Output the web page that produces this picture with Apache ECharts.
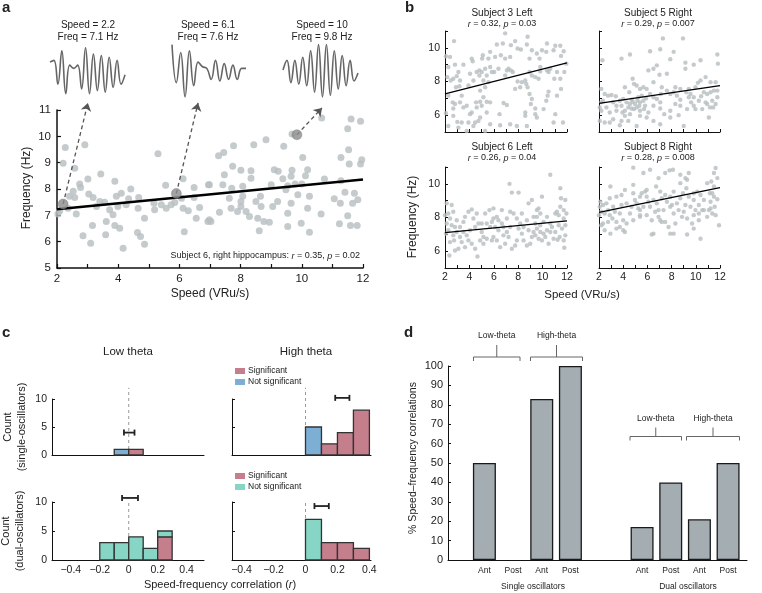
<!DOCTYPE html>
<html><head><meta charset="utf-8">
<script src="https://cdn.jsdelivr.net/npm/echarts@6/dist/echarts.min.js"></script>
<style>html,body{margin:0;padding:0;background:#fff}#c{width:762px;height:593px}</style>
</head><body><div id="c"></div>
<script>
// ---------------- DATA ----------------
// Panel a: subject 6 right hippocampus, speed vs frequency
const aPoints = [
[2.27,9.58],[2.91,9.68],[2.2,8.98],[2.58,8.79],[5.3,9.34],[3.01,8.38],[3.43,8.57],[3.89,8.29],[2.74,8.19],[2.77,8.06],
[2.53,7.91],[2.41,7.72],[2.58,7.68],[2.09,7.17],[2.03,7.05],[2.63,7.05],[2.36,7.27],[3.04,7.81],[3.18,7.68],[3.4,7.53],
[3.56,7.5],[3.29,7.34],[3.72,7.21],[3.94,7.72],[4.1,7.84],[3.99,7.34],[3.83,7.02],[4.26,7.4],[4.34,7.63],[4.41,8.0],
[3.61,6.77],[3.16,6.61],[3.89,6.61],[4.05,6.51],[3.59,6.26],[2.85,6.22],[3.1,5.94],[4.16,5.75],[4.63,6.35],[4.73,6.2],
[4.86,5.9],[4.86,6.89],[4.65,7.27],[4.67,7.68],[5.17,7.46],[5.19,7.21],[5.41,7.4],[5.55,8.14],[5.57,7.27],[5.73,7.4],
[5.85,7.49],[6.12,8.39],[6.07,7.65],[6.12,7.27],[6.16,6.38],[6.48,8.06],[6.48,7.68],[6.29,7.17],[6.66,7.3],[6.55,6.89],
[6.93,6.77],[6.95,8.16],
[10.65,10.7],[11.61,10.66],[11.92,10.57],[11.5,10.29],[9.68,10.09],[8.83,9.87],[8.43,9.68],[7.77,9.64],[7.45,9.39],[7.28,9.26],
[9.41,9.62],[11.53,9.49],[10.03,9.2],[11.28,9.2],[11.55,8.95],[11.92,8.95],[11.96,9.11],[8.34,8.69],[9.1,8.73],[9.23,8.67],
[9.68,8.71],[10.19,8.73],[8.34,8.41],[9.38,8.39],[9.65,8.48],[10.12,8.5],[10.74,8.38],[11.28,8.31],[7.47,8.54],[6.98,8.16],
[7.42,8.16],[7.71,8.03],[8.07,8.1],[9.0,8.16],[9.54,8.12],[9.78,8.19],[10.0,8.19],[9.48,7.97],[9.87,7.78],[10.25,7.72],
[8.07,7.72],[8.65,7.72],[7.63,7.65],[8.01,7.53],[8.5,7.53],[7.69,7.27],[8.01,7.34],[8.18,7.15],[7.9,7.15],[8.67,7.34],
[9.05,7.34],[9.21,7.53],[9.65,7.46],[10.19,7.27],[11.06,7.63],[11.41,7.88],[11.72,7.84],[11.26,7.46],[11.66,7.46],[11.83,7.59],
[9.54,7.08],[10.63,7.05],[11.5,6.98],[7.31,7.12],[7.03,6.77],[6.98,6.83],[8.29,6.96],[8.56,6.89],[8.76,6.77],[8.94,6.74],
[9.54,6.58],[9.98,6.7],[8.61,6.41],[10.25,6.36],[11.23,6.68],[11.59,6.61],[11.81,6.61],[7.74,8.86],[8.01,8.71]
];
const aHighlight = [[2.2,7.43],[5.9,7.83],[9.84,10.06]];
const aFit = [[2,7.23],[12,8.36]];
// annotation arrow tips (speed, freq) for each highlighted sample
const aArrowTips = [[3.01,11.27],[6.61,11.27],[10.66,11.08]];
const aSampleSpeed = ['2.2','6.1','10'];
const aSampleFreq = ['7.1','7.6','9.8'];
// example theta traces (arbitrary amplitude, successive extrema)
const wave1 = [30,35,-40,65,-70,20,10,20,-55,75,-70,55,-60,50,-65,45,-50,35,-40,-10];
const wave2 = [85,-35,60,-80,65,-45,30,15,10,-25,35,-30,25,-25,20,-25,10,10];
const wave3 = [5,35,-35,35,-40,45,-45,65,-65,85,-80,85,-75,65,-55,50,-45,35,-30,-5];

// Panel b: four subjects
const bTitles = ['Subject 3 Left','Subject 5 Right','Subject 6 Left','Subject 8 Right'];
const bR = ['0.32','0.29','0.26','0.28'];
const bP = ['0.03','0.007','0.04','0.008'];
const bFit1 = [[2,7.26],[12,9.1]];
const bFit2 = [[2,6.7],[12,7.76]];
const bFit3 = [[2,7.1],[12,7.8]];
const bFit4 = [[2,8.3],[12,9.78]];
const bPts1 = [
[2.74,10.4],[2.08,9.5],[2.41,9.46],[2.27,8.86],[2.82,9.0],[3.51,9.0],[3.1,8.56],[2.68,8.16],[2.19,8.26],[2.96,8.32],
[3.23,8.06],[2.47,8.06],[2.9,7.66],[3.18,7.72],[2.27,7.16],[3.37,7.16],[3.92,7.76],[4.19,9.36],[4.27,9.2],[4.05,8.46],
[4.33,8.06],[4.6,8.56],[4.82,8.66],[5.01,8.56],[5.1,9.56],[5.04,9.36],[5.56,9.36],[5.7,9.76],[6.11,9.46],[6.25,10.2],
[6.74,10.26],[6.93,10.86],[6.58,9.56],[6.93,9.36],[7.34,9.46],[7.4,10.16],[7.75,10.4],[7.95,9.96],[8.22,9.9],[8.77,10.66],
[8.71,10.2],[9.12,9.86],[8.93,9.36],[9.53,9.66],[9.75,9.36],[9.95,9.86],[10.36,10.26],[10.3,9.76],[10.9,9.86],[11.04,10.12],
[11.45,10.12],[11.51,9.52],[11.73,9.8],[11.95,9.06],[11.78,8.56],[11.45,8.16],[11.51,7.56],[11.18,8.56],[10.96,8.16],[10.49,8.56],
[10.63,8.76],[10.36,8.66],[9.81,8.86],[9.81,8.6],[9.67,8.16],[9.4,8.26],[9.12,8.36],[8.93,8.56],[8.58,8.06],[8.66,7.86],
[8.3,7.96],[8.77,7.66],[8.93,7.26],[9.12,6.96],[9.04,6.66],[9.4,6.4],[9.4,6.06],[9.53,5.86],[10.08,6.36],[10.3,6.86],
[10.41,7.16],[10.49,7.4],[11.18,7.16],[11.04,6.06],[10.9,5.56],[8.58,6.16],[7.95,8.0],[8.16,7.66],[7.75,7.56],[7.56,8.56],
[7.21,8.76],[7.4,8.66],[7.07,8.66],[6.93,8.36],[6.38,8.76],[6.03,8.56],[5.84,8.56],[5.7,8.86],[5.29,8.76],[5.42,8.36],
[4.82,8.36],[5.15,8.06],[5.56,7.96],[5.29,7.66],[4.88,7.46],[5.15,7.06],[4.88,6.8],[4.55,6.76],[4.19,6.16],[4.05,6.06],
[4.6,6.46],[5.01,6.56],[5.42,6.8],[5.7,6.76],[5.42,6.16],[4.88,5.86],[4.74,5.66],[4.47,5.56],[4.33,5.36],[3.92,5.56],
[3.37,5.56],[3.01,5.6],[3.1,5.26],[2.27,5.36],[2.08,6.12],[2.68,5.96],[2.82,6.66],[2.63,6.76],[3.23,6.76],[3.51,6.46],
[3.78,6.56],[7.07,6.6],[7.34,5.46],[7.89,5.36],[8.71,5.36],[6.52,5.4],[5.7,5.46],[6.47,6.06],[6.8,6.72],[8.58,5.96],
[11.67,5.56],[5.29,5.06],[3.78,5.06],[2.68,6.4]
];
const bPts2 = [
[2.28,9.26],[3.86,9.36],[4.56,9.6],[6.22,9.8],[7.28,10.56],[8.94,10.56],[7.06,9.92],[8.17,9.76],[7.89,9.32],[9.14,9.12],
[10.39,9.26],[11.78,9.6],[11.83,9.06],[9.83,9.0],[6.78,8.96],[6.5,8.76],[6.08,8.66],[9.14,8.76],[7.61,8.46],[7.0,8.4],
[4.78,8.16],[4.89,7.86],[4.14,7.66],[4.5,7.36],[5.11,7.76],[5.39,7.56],[5.67,7.66],[5.94,7.56],[6.5,7.96],[7.19,7.66],
[8.31,7.66],[8.72,7.56],[9.56,7.26],[9.97,7.66],[10.17,7.92],[10.39,8.06],[10.81,8.26],[11.22,7.96],[11.64,7.96],[11.5,7.46],
[11.22,7.36],[10.94,7.26],[10.67,7.36],[10.44,7.12],[9.83,7.06],[9.61,6.76],[9.42,7.06],[9.22,7.36],[8.44,7.16],[7.89,7.26],
[7.61,7.46],[7.11,7.26],[6.78,6.96],[6.5,7.06],[6.22,7.26],[5.89,7.0],[5.67,6.86],[5.39,6.76],[5.17,6.86],[4.97,6.66],
[4.78,6.8],[4.56,6.66],[4.42,6.46],[4.69,6.4],[4.89,6.36],[5.11,6.46],[5.33,6.56],[4.28,6.76],[4.0,6.96],[3.72,6.86],
[3.39,7.12],[3.03,7.2],[2.75,7.16],[2.47,7.26],[2.19,7.56],[2.33,6.86],[3.17,6.76],[3.44,6.56],[3.86,6.56],[2.61,6.46],
[2.19,6.26],[2.89,6.16],[3.44,6.26],[3.94,6.16],[4.14,5.96],[5.39,6.26],[5.72,6.36],[6.08,6.16],[6.5,6.56],[7.06,6.4],
[7.39,6.06],[7.89,6.26],[8.31,6.66],[8.72,6.56],[9.28,6.36],[9.83,6.56],[10.25,6.86],[10.81,6.76],[11.36,6.86],[11.78,7.06],
[11.44,6.46],[11.17,6.46],[10.94,6.66],[7.89,5.86],[8.58,6.0],[7.06,5.46],[9.0,5.36],[11.08,5.86],[2.06,5.66],[2.47,5.56],
[3.17,5.76],[4.42,5.66],[5.11,5.36],[2.06,6.46],[2.19,6.76],[3.72,5.4],[6.5,5.66],[5.39,5.96],[5.94,5.86],[4.56,6.06],
[3.86,5.66],[2.89,5.56],[4.14,6.26],[4.69,6.92],[5.25,7.06],[8.72,6.92],[9.42,7.56],[8.17,7.36],[7.06,6.76],[5.81,6.56],
[5.53,7.16],[9.97,6.36],[10.53,6.36],[11.64,6.66],[11.78,7.46]
];
const bPts3 = [
[2.14,8.84],[2.55,8.74],[2.27,8.24],[2.0,8.14],[2.68,8.34],[2.41,7.94],[2.14,7.64],[2.55,7.54],[2.82,7.44],[2.27,7.24],
[2.08,7.04],[2.68,6.94],[2.96,7.14],[2.41,6.54],[2.36,5.74],[2.82,6.04],[3.1,6.14],[3.37,6.54],[3.23,6.84],[3.51,7.14],
[3.78,6.94],[3.64,8.04],[3.92,8.34],[4.19,8.48],[4.33,7.94],[4.47,7.44],[4.05,7.24],[3.92,6.64],[4.19,6.44],[4.47,6.14],
[4.66,5.68],[4.88,6.64],[5.01,7.14],[5.15,6.84],[5.01,7.64],[5.29,8.24],[5.64,8.44],[5.97,8.54],[5.84,7.74],[5.7,7.44],
[6.11,7.44],[5.97,6.84],[6.25,6.64],[6.38,7.24],[6.66,7.64],[6.79,6.94],[6.93,6.44],[6.52,6.24],[5.84,6.64],[5.42,6.74],
[6.66,8.44],[7.07,7.94],[7.34,8.34],[7.29,10.0],[7.48,9.48],[8.03,9.48],[7.62,8.24],[7.89,7.94],[8.3,8.24],[8.16,7.64],
[8.44,7.44],[8.71,7.84],[8.85,8.84],[9.12,9.04],[9.26,8.04],[9.53,8.44],[9.67,8.54],[9.95,9.24],[9.81,8.24],[8.85,7.24],
[9.26,7.14],[9.53,7.34],[9.81,7.14],[10.08,7.04],[9.4,6.94],[9.12,6.84],[9.67,6.74],[9.95,6.64],[10.22,6.84],[10.36,7.24],
[10.63,10.54],[10.63,7.64],[10.49,6.44],[10.77,7.44],[11.04,8.24],[11.18,8.34],[11.32,8.14],[11.45,9.74],[11.51,9.14],[11.45,8.64],
[11.73,8.44],[11.86,9.04],[11.95,8.24],[11.73,7.94],[11.86,7.54],[11.59,7.34],[11.4,6.84],[11.86,6.94],[11.73,6.64],[11.23,6.68],
[11.78,6.2],[8.03,7.34],[8.3,7.04],[7.89,6.64],[7.75,6.34],[7.48,6.14],[7.21,6.84],[7.34,7.44],[7.07,7.14],[6.79,7.44],
[6.38,7.84],[6.25,8.04],[5.97,7.94],[5.42,7.64],[5.15,6.44],[4.74,7.64],[4.6,8.24],[3.51,7.74],[3.23,7.44],[2.96,7.84],
[2.74,6.64],[3.64,6.24],[8.44,6.64],[8.71,6.34],[8.99,6.44],[9.53,8.04],[10.36,8.04],[10.9,6.74],[11.04,7.14],[11.32,7.54],
[10.08,7.74],[10.63,7.14],[9.81,7.54],[9.4,7.64]
];
const bPts4 = [
[2.11,8.94],[2.33,8.74],[2.61,8.84],[2.19,8.34],[2.0,8.14],[2.47,8.24],[2.75,8.44],[2.89,9.14],[2.94,9.84],[3.17,8.64],
[3.31,8.34],[3.44,9.24],[3.86,9.34],[4.14,9.64],[3.72,8.24],[3.11,7.94],[2.75,7.74],[2.33,7.64],[2.19,7.54],[2.47,7.24],
[2.94,7.04],[3.44,7.74],[4.0,7.84],[4.28,7.64],[4.14,7.14],[4.56,8.24],[4.69,8.64],[4.83,9.94],[4.97,9.04],[5.11,8.84],
[5.39,9.24],[5.53,9.44],[5.39,8.44],[5.67,8.64],[5.81,9.54],[5.94,9.64],[6.08,8.94],[6.22,8.64],[6.5,9.04],[6.72,9.84],
[6.92,8.44],[7.06,9.54],[7.19,9.14],[7.47,9.34],[7.61,8.94],[7.89,9.24],[7.89,8.64],[8.17,9.54],[8.44,8.84],[8.58,8.44],
[8.72,10.04],[8.94,9.44],[9.22,9.74],[9.28,10.24],[9.42,9.24],[9.56,8.64],[9.83,9.04],[10.11,9.54],[10.25,8.74],[10.39,9.34],
[10.67,9.04],[10.94,10.04],[11.08,8.44],[11.22,8.94],[11.36,9.44],[11.5,10.64],[11.64,10.94],[11.78,10.34],[11.56,8.64],[11.28,10.14],
[11.17,9.44],[11.92,7.54],[4.83,10.96],[5.67,10.64],[6.22,10.84],[7.83,10.8],[8.11,10.84],[3.72,7.44],[4.0,7.24],[4.83,7.84],
[5.39,8.14],[5.94,8.14],[6.36,7.84],[6.5,7.04],[6.92,8.04],[7.06,7.84],[7.19,7.74],[7.47,7.74],[7.75,7.44],[7.89,7.04],
[8.31,7.64],[8.86,8.04],[9.28,7.94],[9.69,7.64],[9.83,7.34],[9.97,8.44],[10.25,8.24],[10.67,8.44],[10.94,8.04],[11.36,8.24],
[11.64,8.14],[10.39,6.74],[9.28,6.99],[8.17,7.04],[6.36,6.99],[5.39,8.04],[4.83,9.44],[6.78,8.84],[7.33,8.44],[8.17,8.24],
[8.72,9.14],[9.14,8.74],[9.83,8.14],[10.25,7.84],[11.5,9.24],[11.78,9.08],[6.92,10.34],[7.47,10.64],[8.72,10.54],[9.14,10.34],
[9.42,10.64],[9.83,9.44],[5.94,9.24],[4.28,8.84],[3.86,8.74],[2.89,8.14],[3.44,7.34],[2.06,8.64],[5.25,8.54],[6.64,8.34],
[8.03,8.74],[9.0,8.34],[10.53,8.44],[11.22,8.54],[11.5,9.84]
];

// Panel c: histograms of speed-frequency correlation (bin left edges, width 0.1)
const cBinStarts = [-0.2,-0.1,0,0.1,0.2,0.3];
const cBinWidth = 0.1;
const cSingleLowSig = [0,0,1,0,0,0];
const cSingleLowNot = [0,1,0,0,0,0];
const cSingleHighSig = [0,0,0,2,4,8];
const cSingleHighNot = [0,0,5,0,0,0];
const cDualLowSig = [0,0,0,0,4,0];
const cDualLowNot = [3,3,4,2,1,0];
const cDualHighSig = [0,0,0,3,3,2];
const cDualHighNot = [0,0,7,0,0,0];
// mean +/- error: [low, high, count level]
const cErrSingleLow = [-0.033,0.04,4];
const cErrSingleHigh = [0.186,0.275,10.2];
const cErrDualLow = [-0.046,0.064,10.7];
const cErrDualHigh = [0.056,0.146,9.3];
const cTickVals = [-0.4,-0.2,0,0.2,0.4];
const cTickText = ['\u22120.4','\u22120.2','0','0.2','0.4'];

// Panel d: % speed-frequency correlations
const dLabels = ['Ant','Post','Ant','Post','Ant','Post','Ant','Post'];
const dValues = [50,0,83,100,17,40,21,50];
const dSlots = [1,2,3,4,6.5,7.5,8.5,9.5];

// ---------------- CHART ----------------
const FONT = '"Liberation Sans", Arial, Helvetica, sans-serif';
const TXT = '#222';
const chart = echarts.init(document.getElementById('c'), null, {renderer:'canvas'});

const grids = [
  {left:57, top:110, width:306, height:158},   //0 a
  {left:50, top:43, width:75, height:57},      //1 wave1
  {left:172, top:43, width:74, height:57},     //2 wave2
  {left:283, top:43, width:75, height:57},     //3 wave3
  {left:445, top:31, width:122, height:101},   //4 b1
  {left:599, top:31, width:121, height:101},   //5 b2
  {left:445, top:167, width:122, height:101},  //6 b3
  {left:599, top:167, width:121, height:101},  //7 b4
  {left:52, top:399, width:152, height:56},    //8 c1
  {left:232, top:399, width:139, height:56},   //9 c2
  {left:52, top:502, width:152, height:58},    //10 c3
  {left:232, top:502, width:139, height:58},   //11 c4
  {left:448, top:366, width:299, height:194}   //12 d
];

function vAxis(gi, min, max, interval, o) {
  o = o || {};
  return {
    type:'value', gridIndex:gi, min:min, max:max, interval:interval,
    axisLine:{show:o.line!==false, onZero:false, lineStyle:{color:'#111', width:o.lw||1}},
    axisTick:o.tick || {show:true, inside:true, length:3, lineStyle:{color:'#111', width:o.lw||1}},
    axisLabel:o.label || {show:false},
    splitLine:{show:false}
  };
}
function lab(size, margin, fmt, extra) {
  return Object.assign({show:true, fontSize:size, color:TXT, fontFamily:FONT, margin:margin, formatter:fmt}, extra||{});
}
const even = v => (v % 2 === 0 ? String(v) : '');

const xAxes = [], yAxes = [];
// a
xAxes.push(vAxis(0,2,12,1,{lw:1.5, tick:{show:true,inside:true,length:4,lineStyle:{color:'#111',width:1.2}}, label:lab(11.5,5,even)}));
yAxes.push(vAxis(0,5,11,1,{lw:1.5, tick:{show:true,inside:true,length:4,lineStyle:{color:'#111',width:1.2}}, label:lab(11.5,6,v=>String(v))}));
// waves
[wave1,wave2,wave3].forEach((w,i)=>{
  xAxes.push({type:'category', gridIndex:i+1, data:w.map((_,k)=>k), boundaryGap:false, show:false});
  yAxes.push({type:'value', gridIndex:i+1, min:-90, max:90, show:false, splitLine:{show:false}});
});
// b
for (let i=0;i<4;i++){
  const gi = 4+i;
  const bottom = i>=2, left = (i%2===0);
  xAxes.push(vAxis(gi,2,12,1,{label: bottom ? lab(10.5,4,even) : {show:false}}));
  yAxes.push(vAxis(gi,5,11,1,{label: left ? lab(10.5,5,v=>(v%2===0?String(v):'')) : {show:false}}));
}
// c
const cX = [[-0.53,0.52],[-0.46,0.41],[-0.53,0.52],[-0.46,0.41]];
for (let i=0;i<4;i++){
  const gi = 8+i;
  const bottom = i>=2, left = (i%2===0);
  const xa = vAxis(gi,cX[i][0],cX[i][1],null,{
    tick:{show:false},
    label: bottom ? lab(10.5,5,v=>{const k=cTickVals.findIndex(t=>Math.abs(t-v)<1e-9);return k>=0?cTickText[k]:'';},{customValues:cTickVals}) : {show:false}
  });
  delete xa.interval;
  xAxes.push(xa);
  yAxes.push(vAxis(gi,0,10,5,{label: left ? lab(10.5,5,v=>String(v)) : {show:false}}));
}
// d
const dx = vAxis(12,-0.27,10.16,null,{tick:{show:false},
  label: lab(8.5,6,v=>{const k=dSlots.indexOf(v);return k>=0?dLabels[k]:'';},{customValues:dSlots})});
delete dx.interval;
xAxes.push(dx);
yAxes.push(vAxis(12,0,100,10,{label:lab(11,5,v=>String(v))}));

// ---------- series ----------
const series = [];
const DOT = '#b6bec1';
series.push({type:'scatter', xAxisIndex:0, yAxisIndex:0, data:aPoints, symbolSize:7, itemStyle:{color:DOT}, z:2, silent:true});
series.push({type:'line', xAxisIndex:0, yAxisIndex:0, data:aFit, showSymbol:false, symbol:'none', lineStyle:{color:'#000', width:2.5}, z:3});
series.push({type:'lines', coordinateSystem:'cartesian2d', xAxisIndex:0, yAxisIndex:0,
  data:aHighlight.map((p,i)=>({coords:[p, aArrowTips[i]]})),
  symbol:['none','arrow'], symbolSize:[0,8], clip:false,
  lineStyle:{color:'#555', type:[4,3], width:1.3, opacity:1}, z:4});
series.push({type:'scatter', xAxisIndex:0, yAxisIndex:0, data:aHighlight, symbolSize:10, itemStyle:{color:'#8b8b8b', borderColor:'#7a7a7a', borderWidth:0.5}, z:5});
[wave1,wave2,wave3].forEach((w,i)=>{
  series.push({type:'line', xAxisIndex:i+1, yAxisIndex:i+1, data:w, smooth:0.45, showSymbol:false, symbol:'none',
    lineStyle:{color:'#666', width:1.6}});
});
[bPts1,bPts2,bPts3,bPts4].forEach((pts,i)=>{
  series.push({type:'scatter', xAxisIndex:4+i, yAxisIndex:4+i, data:pts, symbolSize:4.4, itemStyle:{color:DOT}, z:2});
});
[bFit1,bFit2,bFit3,bFit4].forEach((f,i)=>{
  series.push({type:'line', xAxisIndex:4+i, yAxisIndex:4+i, data:f, showSymbol:false, symbol:'none', lineStyle:{color:'#000', width:1.3}, z:3});
});

// panel c
const RED='#c47e8c', BLUE='#7daed4', TEAL='#86d5c5';
function histItems(sig, not, notColor) {
  const out = [];
  cBinStarts.forEach((x0,k)=>{
    if (sig[k]>0) out.push({value:[x0, x0+cBinWidth, 0, sig[k]], itemStyle:{color:RED}});
    if (not[k]>0) out.push({value:[x0, x0+cBinWidth, sig[k], sig[k]+not[k]], itemStyle:{color:notColor}});
  });
  return out;
}
function histRender(params, api){
  const p0 = api.coord([api.value(0), api.value(2)]);
  const p1 = api.coord([api.value(1), api.value(3)]);
  return {type:'rect', shape:{x:p0[0], y:p1[1], width:p1[0]-p0[0], height:p0[1]-p1[1]},
    style:{fill: api.visual('color'), stroke:'#333', lineWidth:1.3}};
}
const cSets = [
  [cSingleLowSig,cSingleLowNot,BLUE,cErrSingleLow,12],
  [cSingleHighSig,cSingleHighNot,BLUE,cErrSingleHigh,12],
  [cDualLowSig,cDualLowNot,TEAL,cErrDualLow,10],
  [cDualHighSig,cDualHighNot,TEAL,cErrDualHigh,10]
];
cSets.forEach((s,i)=>{
  const gi = 8+i;
  series.push({type:'line', xAxisIndex:gi, yAxisIndex:gi, data:[[0,0],[0,s[4]]], showSymbol:false, symbol:'none', clip:false,
    lineStyle:{color:'#9a9a9a', width:1, type:[3,3]}, z:1});
  series.push({type:'custom', xAxisIndex:gi, yAxisIndex:gi, data:histItems(s[0], s[1], s[2]), renderItem:histRender, z:2,
    encode:{x:[0,1], y:[2,3]}, clip:false});
  series.push({type:'custom', xAxisIndex:gi, yAxisIndex:gi, data:[s[3]], clip:false, z:3,
    encode:{x:[0,1], y:2},
    renderItem:function(params, api){
      const a = api.coord([api.value(0), api.value(2)]);
      const b = api.coord([api.value(1), api.value(2)]);
      const st = {stroke:'#222', lineWidth:1.8};
      return {type:'group', children:[
        {type:'line', shape:{x1:a[0],y1:a[1],x2:b[0],y2:b[1]}, style:st},
        {type:'line', shape:{x1:a[0],y1:a[1]-3,x2:a[0],y2:a[1]+3}, style:st},
        {type:'line', shape:{x1:b[0],y1:b[1]-3,x2:b[0],y2:b[1]+3}, style:st}
      ]};
    }});
});

// panel d
series.push({type:'bar', xAxisIndex:12, yAxisIndex:12,
  data:dSlots.map((s,i)=>({value:[s,dValues[i]], itemStyle: dValues[i]===0 ? {borderWidth:0, color:'rgba(0,0,0,0)'} : undefined})),
  barWidth:23,
  itemStyle:{color:'#a4adb2', borderColor:'#1a1a1a', borderWidth:1.3}, z:2});

// ---------- graphic text & annotations ----------
const g = [];
function T(x,y,text,size,o){
  o=o||{};
  g.push({type:'text', x:x, y:y, rotation:o.rot||0, z:100, silent:true,
    style:Object.assign({text:text, fontSize:size, fontFamily:FONT, fill:o.color||TXT, fontWeight:o.bold?'bold':'normal',
      align:o.align||'center', verticalAlign:o.va||'middle'}, o.rich?{rich:o.rich}:{})});
}
function richIt(size){ return {n:{fontSize:size, fontFamily:FONT, fill:TXT}, i:{fontSize:size, fontFamily:FONT, fill:TXT, fontStyle:'italic'}}; }
// panel letters
T(2,8,'a',15,{bold:true,align:'left'});
T(405,8,'b',15,{bold:true,align:'left'});
T(2,333,'c',15,{bold:true,align:'left'});
T(404,333,'d',15,{bold:true,align:'left'});
// panel a
const waveCenters = [88,208,322];
waveCenters.forEach((x,i)=>{
  T(x,25,'Speed = '+aSampleSpeed[i],10);
  T(x,37,'Freq = '+aSampleFreq[i]+' Hz',10);
});
T(27,188,'Frequency (Hz)',12,{rot:Math.PI/2});
T(210,294,'Speed (VRu/s)',12);
T(360,256,'{n|Subject 6, right hippocampus: }{i|r}{n| = 0.35, }{i|p}{n| = 0.02}',9,{align:'right', rich:richIt(9)});
// panel b
const bCenters = [[502,13],[658,13],[502,147],[658,147]];
bCenters.forEach((c,i)=>{
  T(c[0],c[1],bTitles[i],10);
  T(c[0],c[1]+11,'{i|r}{n| = '+bR[i]+', }{i|p}{n| = '+bP[i]+'}',9,{rich:richIt(9)});
});
T(413,217,'Frequency (Hz)',12,{rot:Math.PI/2});
T(582,295,'Speed (VRu/s)',11.5);
// panel c
T(128,352,'Low theta',11.5);
T(306,352,'High theta',11.5);
T(8,427,'Count',11,{rot:Math.PI/2});
T(22,427,'(single-oscillators)',11,{rot:Math.PI/2});
T(6,531,'Count',11,{rot:Math.PI/2});
T(20,531,'(dual-oscillators)',11,{rot:Math.PI/2});
T(220,585,'{n|Speed-frequency correlation (}{i|r}{n|)}',11,{rich:richIt(11)});
function legendBox(x,y,color,text){
  g.push({type:'rect', shape:{x:x, y:y-3, width:10, height:6}, style:{fill:color}, z:100});
  T(x+13,y,text,8.5,{align:'left'});
}
legendBox(235,371,RED,'Significant');
legendBox(235,382,BLUE,'Not significant');
legendBox(235,476,RED,'Significant');
legendBox(235,487,TEAL,'Not significant');
// panel d
T(413,458,'% Speed\u2013frequency correlations',10.5,{rot:Math.PI/2});
T(533,587,'Single oscillators',8.5);
T(688,587,'Dual oscillators',8.5);
function bracket(x1,x2,y,stemTop,label){
  const xc=(x1+x2)/2;
  g.push({type:'polyline', shape:{points:[[x1,y+4],[x1,y],[x2,y],[x2,y+4]]}, style:{stroke:'#666', lineWidth:1, fill:null}, z:100});
  g.push({type:'line', shape:{x1:xc,y1:stemTop,x2:xc,y2:y}, style:{stroke:'#666', lineWidth:1}, z:100});
  T(xc,stemTop-9,label,8.5);
}
bracket(473.5,520,357,345,'Low-theta');
bracket(530.5,582.5,357,345,'High-theta');
bracket(630,681.5,436.5,427.5,'Low-theta');
bracket(686.5,739.5,436.5,427.5,'High-theta');

chart.setOption({
  animation:false,
  backgroundColor:'#fff',
  textStyle:{fontFamily:FONT},
  grid:grids,
  xAxis:xAxes,
  yAxis:yAxes,
  series:series,
  graphic:g
});
</script></body></html>
